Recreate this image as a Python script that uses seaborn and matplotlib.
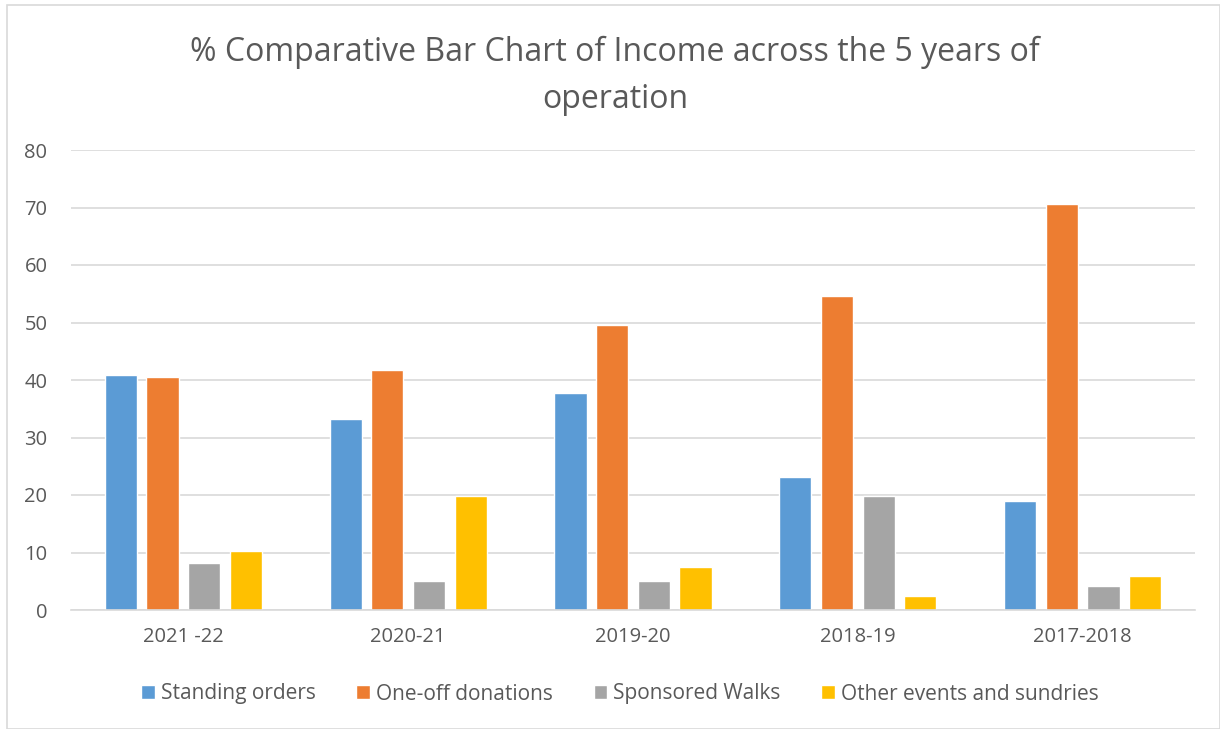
import matplotlib
matplotlib.use("Agg")
import matplotlib.pyplot as plt
import seaborn as sns
import pandas as pd
from matplotlib.patches import Rectangle

years = ["2021 -22", "2020-21", "2019-20", "2018-19", "2017-2018"]
series = ["Standing orders", "One-off donations", "Sponsored Walks", "Other events and sundries"]
standing_orders = [40.8, 33.2, 37.8, 23.1, 19.0]
one_off_donations = [40.6, 41.7, 49.6, 54.6, 70.6]
sponsored_walks = [8.2, 5.0, 5.1, 19.8, 4.2]
other_events = [10.3, 19.9, 7.5, 2.4, 6.0]
colors = ["#5B9BD5", "#ED7D31", "#A5A5A5", "#FFC000"]
yticks = [0, 10, 20, 30, 40, 50, 60, 70, 80]

rows = []
for name, vals in zip(series, [standing_orders, one_off_donations, sponsored_walks, other_events]):
    for y, v in zip(years, vals):
        rows.append({"Year": y, "Series": name, "Value": v})
df = pd.DataFrame(rows)

sns.set_style("white")
plt.rcParams["font.family"] = ["Open Sans", "DejaVu Sans"]

fig = plt.figure(figsize=(12.2, 7.29), dpi=100)
ax = fig.add_axes([71 / 1220, 1 - 610 / 729, 1124 / 1220, 460 / 729])

sns.barplot(data=df, x="Year", y="Value", hue="Series", order=years, hue_order=series,
            palette=colors, width=0.742, gap=0.23, ax=ax, legend=True, saturation=1)

ax.set_ylim(0, 80)
ax.set_yticks(yticks)
ax.set_yticklabels([str(t) for t in yticks])
ax.yaxis.grid(True, color="#D9D9D9", linewidth=1.2)
ax.set_axisbelow(True)
for s in ["top", "right", "left"]:
    ax.spines[s].set_visible(False)
ax.spines["bottom"].set_color("#D9D9D9")
ax.spines["bottom"].set_linewidth(1.2)
ax.tick_params(axis="both", length=0, labelsize=14.5, colors="#595959")
ax.tick_params(axis="x", pad=12)
ax.tick_params(axis="y", pad=17)
ax.set_xlabel("")
ax.set_ylabel("")

handles, labels = ax.get_legend_handles_labels()
ax.get_legend().remove()
fig.legend(handles, labels, loc="center", bbox_to_anchor=(620 / 1220, 1 - 694 / 729), ncol=4,
           frameon=False, fontsize=15, handlelength=0.65, handleheight=0.65,
           handletextpad=0.3, columnspacing=1.95, labelcolor="#595959")

fig.text(615 / 1220, 1 - 76 / 729, "% Comparative Bar Chart of Income across the 5 years of\noperation",
         ha="center", va="center", fontsize=23, color="#595959", linespacing=1.56)

fig.patches.append(Rectangle((7 / 1220, 0), 1 - 7 / 1220, 1 - 5 / 729, transform=fig.transFigure,
                             fill=False, edgecolor="#D9D9D9", linewidth=1.2))

fig.savefig("out.png", dpi=100, facecolor="white")
